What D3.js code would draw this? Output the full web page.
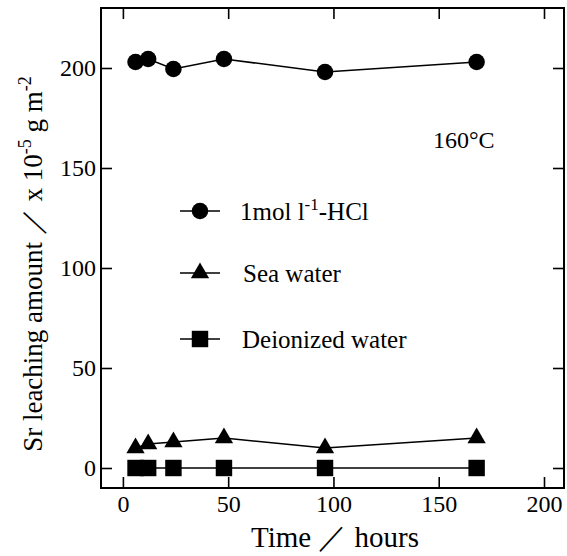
<!DOCTYPE html>
<html>
<head>
<meta charset="utf-8">
<script src="https://cdn.jsdelivr.net/npm/d3@7"></script>
<style>
  body { margin: 0; background: #fff; }
  text { font-family: "Liberation Serif", "Times New Roman", serif; fill: #000; }
</style>
</head>
<body>
<svg width="567" height="556"></svg>
<script>
// data
const hours = [6, 12, 24, 48, 96, 168];
const hcl = [203, 204.5, 199.5, 204.5, 198, 203];
const seaWater = [10, 12, 13, 15, 10, 15];
const deionized = [0, 0, 0, 0, 0, 0];
const xTicks = [0, 50, 100, 150, 200];
const yTicks = [0, 50, 100, 150, 200];

const series = [
    { name: "hcl", values: hcl, symbol: d3.symbolCircle, size: 215 },
    { name: "sea", values: seaWater, symbol: d3.symbolTriangle, size: 145 },
    { name: "di", values: deionized, symbol: d3.symbolSquare, size: 270 }
];

const svg = d3.select("svg");
const plotL = 101, plotR = 564, plotT = 8, plotB = 488;

const x = d3.scaleLinear().domain([-10.4, 209.5]).range([plotL, plotR]);
const y = d3.scaleLinear().domain([-10, 230]).range([plotB, plotT]);

// axes, ticks pointing inwards on all four sides
const xAxis = svg.append("g")
    .attr("transform", "translate(0," + plotB + ")")
    .call(d3.axisBottom(x).tickValues(xTicks).tickSize(-11).tickPadding(7));
const xAxisTop = svg.append("g")
    .attr("transform", "translate(0," + plotT + ")")
    .call(d3.axisTop(x).tickValues(xTicks).tickSize(-11).tickFormat(""));
const yAxis = svg.append("g")
    .attr("transform", "translate(" + plotL + ",0)")
    .call(d3.axisLeft(y).tickValues(yTicks).tickSize(-11).tickPadding(5));
const yAxisRight = svg.append("g")
    .attr("transform", "translate(" + plotR + ",0)")
    .call(d3.axisRight(y).tickValues(yTicks).tickSize(-11).tickFormat(""));

[xAxis, xAxisTop, yAxis, yAxisRight].forEach(a => {
    a.select(".domain").remove();
    a.selectAll(".tick line").attr("stroke", "#000").attr("stroke-width", 1.6);
    a.selectAll("text").style("font-family", "Liberation Serif").style("font-size", "24px");
});

svg.append("rect")
    .attr("x", plotL).attr("y", plotT)
    .attr("width", plotR - plotL).attr("height", plotB - plotT)
    .attr("fill", "none").attr("stroke", "#000").attr("stroke-width", 2);

// lines + markers
const line = d3.line().x((d, i) => x(hours[i])).y(d => y(d));

series.forEach(s => {
    svg.append("path")
        .datum(s.values)
        .attr("d", line)
        .attr("fill", "none")
        .attr("stroke", "#000")
        .attr("stroke-width", 1.5);

    svg.selectAll(".m-" + s.name)
        .data(s.values)
        .enter().append("path")
        .attr("class", "m-" + s.name)
        .attr("transform", (d, i) => "translate(" + x(hours[i]) + "," + y(d) + ")")
        .attr("d", d3.symbol(s.symbol, s.size))
        .attr("fill", "#000");
});

// legend
const legendY = [211, 273, 339];
const legend = svg.append("g");
series.forEach((s, i) => {
    legend.append("line")
        .attr("x1", 180).attr("x2", 220)
        .attr("y1", legendY[i]).attr("y2", legendY[i])
        .attr("stroke", "#000").attr("stroke-width", 1.5);
    legend.append("path")
        .attr("transform", "translate(200," + legendY[i] + ")")
        .attr("d", d3.symbol(s.symbol, s.size))
        .attr("fill", "#000");
});

const t1 = legend.append("text").attr("x", 240).attr("y", legendY[0] + 9).style("font-size", "25px");
t1.append("tspan").text("1mol l");
t1.append("tspan").attr("dy", "-10").style("font-size", "17px").text("-1");
t1.append("tspan").attr("dy", "10").text("-HCl");
legend.append("text").attr("x", 243).attr("y", legendY[1] + 9).style("font-size", "25px").text("Sea water");
legend.append("text").attr("x", 242).attr("y", legendY[2] + 9).style("font-size", "25px").text("Deionized water");

svg.append("text")
    .attr("x", 433).attr("y", 148)
    .style("font-size", "24px")
    .text("160°C");

// axis titles
svg.append("text")
    .attr("x", 335).attr("y", 547)
    .attr("text-anchor", "middle")
    .style("font-size", "29px")
    .text("Time ／ hours");

const yt = svg.append("text")
    .attr("transform", "translate(42,264) rotate(-90)")
    .attr("text-anchor", "middle")
    .style("font-size", "27px");
yt.append("tspan").text("Sr leaching amount ／ x 10");
yt.append("tspan").attr("dy", "-11").style("font-size", "18px").text("-5");
yt.append("tspan").attr("dy", "11").text(" g m");
yt.append("tspan").attr("dy", "-11").style("font-size", "18px").text("-2");
</script>
</body>
</html>
